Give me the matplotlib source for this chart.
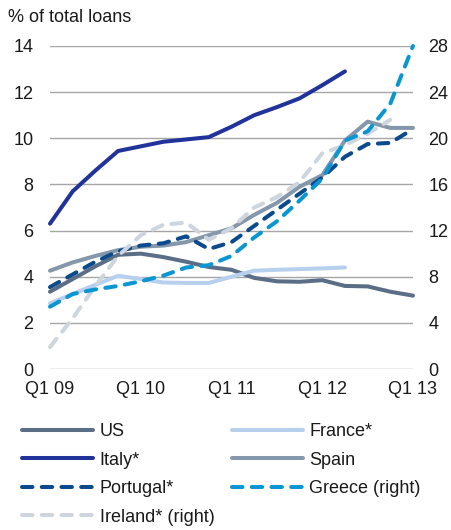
import numpy as np
import matplotlib
matplotlib.use('Agg')
from matplotlib import pyplot as plt

plt.rcParams['font.family'] = ['Liberation Sans', 'DejaVu Sans']

# Data (quarterly, Q1 09 .. Q1 13)
quarters = ['Q1 09', 'Q2 09', 'Q3 09', 'Q4 09',
            'Q1 10', 'Q2 10', 'Q3 10', 'Q4 10',
            'Q1 11', 'Q2 11', 'Q3 11', 'Q4 11',
            'Q1 12', 'Q2 12', 'Q3 12', 'Q4 12',
            'Q1 13']
tick_labels = ['Q1 09', 'Q1 10', 'Q1 11', 'Q1 12', 'Q1 13']
nan = np.nan

us = [3.35, 3.9, 4.45, 4.95, 5.0, 4.85, 4.65, 4.42, 4.3, 3.95, 3.8, 3.78, 3.85, 3.6, 3.58, 3.35, 3.18]
france = [2.85, 3.25, 3.65, 4.04, 3.9, 3.75, 3.73, 3.73, 4.0, 4.26, 4.3, 4.33, 4.36, 4.4, nan, nan, nan]
italy = [6.3, 7.7, 8.6, 9.45, 9.65, 9.85, 9.95, 10.05, 10.5, 11.0, 11.35, 11.73, 12.3, 12.9, nan, nan, nan]
spain = [4.26, 4.62, 4.9, 5.15, 5.3, 5.35, 5.5, 5.8, 6.1, 6.68, 7.2, 7.9, 8.4, 9.9, 10.72, 10.45, 10.45]
portugal = [3.55, 4.1, 4.65, 5.1, 5.35, 5.45, 5.75, 5.2, 5.5, 6.2, 6.9, 7.6, 8.3, 9.2, 9.75, 9.8, 10.4]
# right axis
greece = [5.4, 6.5, 6.9, 7.2, 7.6, 8.1, 8.8, 9.0, 9.8, 11.4, 12.8, 14.6, 16.5, 19.8, 20.6, 23.0, 28.0]
ireland = [1.9, 4.4, 7.2, 9.8, 11.6, 12.5, 12.7, 11.2, 12.2, 14.0, 14.9, 16.2, 18.7, 19.4, 20.4, 21.6, nan]

x = np.arange(len(quarters))

fig = plt.figure(figsize=(4.51, 5.30), dpi=100)
ax = fig.add_axes([50/451, 1-369/530, 363/451, 323/530])
ax2 = ax.twinx()

lw = 2.9
dash = (2.6, 2.3)
txt = '#1a1a1a'
fs = 13

h_us, = ax.plot(x, us, color='#5a6f86', lw=lw, label='US', solid_capstyle='round')
h_fr, = ax.plot(x, france, color='#b6d0ee', lw=lw, label='France*', solid_capstyle='round')
h_it, = ax.plot(x, italy, color='#21339a', lw=lw, label='Italy*', solid_capstyle='round')
h_sp, = ax.plot(x, spain, color='#8597ab', lw=lw, label='Spain', solid_capstyle='round')
h_pt, = ax.plot(x, portugal, color='#0b4a8c', lw=lw, ls='--', dashes=dash,
                dash_capstyle='round', label='Portugal*')
h_ie, = ax2.plot(x, ireland, color='#cdd5de', lw=lw, ls='--', dashes=dash,
                 dash_capstyle='round', label='Ireland* (right)')
h_gr, = ax2.plot(x, greece, color='#0a96d2', lw=lw, ls='--', dashes=dash,
                 dash_capstyle='round', label='Greece (right)')
for h in [h_us, h_fr, h_it, h_sp, h_pt, h_ie, h_gr]:
    h.set_clip_on(False)

ax.set_xlim(0, 16)
ax.set_ylim(0, 14)
ax2.set_ylim(0, 28)
ax.set_yticks(np.arange(0, 15, 2))
ax2.set_yticks(np.arange(0, 29, 4))
ax.set_xticks([quarters.index(q) for q in tick_labels])
ax.set_xticklabels(tick_labels)

ax.grid(axis='y', color='#a6a6a6', lw=1.0)
ax.set_axisbelow(True)
for a in [ax, ax2]:
    for s in a.spines.values():
        s.set_visible(False)
ax.tick_params(axis='y', length=0, pad=12, labelsize=fs, labelcolor=txt)
ax.tick_params(axis='x', length=0, pad=9, labelsize=fs, labelcolor=txt)
ax2.tick_params(axis='y', length=0, pad=11, labelsize=fs, labelcolor=txt)

fig.text(8/451, 1-18/530, '% of total loans', fontsize=fs, color=txt, va='center', ha='left')

handles = [h_us, h_it, h_pt, h_ie, h_fr, h_sp, h_gr]
fig.legend(handles=handles, labels=[h.get_label() for h in handles], ncol=2,
           loc='upper left', bbox_to_anchor=(22/451, 1-423/530), frameon=False,
           fontsize=fs, labelcolor=txt, borderpad=0, borderaxespad=0,
           handlelength=3.95, handletextpad=0.35, columnspacing=0.95, labelspacing=0.64)

plt.savefig('out.png', dpi=100)
